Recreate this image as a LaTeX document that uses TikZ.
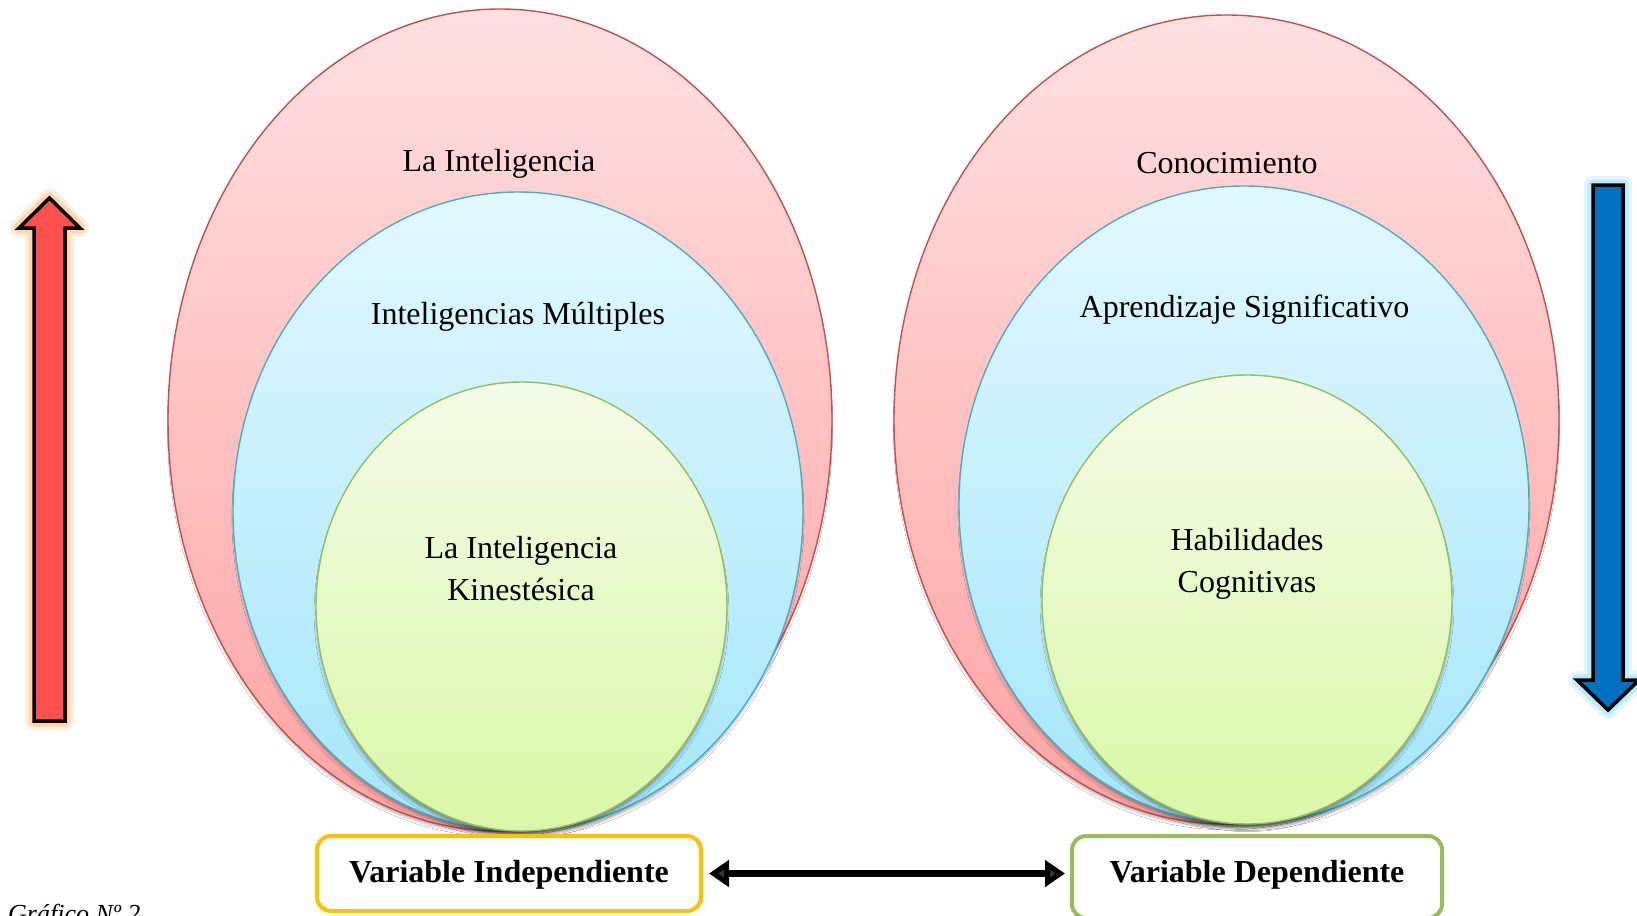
\documentclass[tikz,border=0pt]{standalone}
\usepackage{fontspec}
\setmainfont{Liberation Serif}
\usetikzlibrary{shadows.blur,arrows.meta}
\definecolor{redline}{HTML}{C0504D}
\definecolor{redtop}{HTML}{FFE0E0}
\definecolor{redbot}{HTML}{FFA3A3}
\definecolor{blueline}{HTML}{4BACC6}
\definecolor{bluetop}{HTML}{E3F8FF}
\definecolor{bluebot}{HTML}{A3E6FA}
\definecolor{greenline}{HTML}{9BBB59}
\definecolor{greentop}{HTML}{F4FBE8}
\definecolor{greenbot}{HTML}{D8F8A6}
\definecolor{boxyellow}{HTML}{FFC000}
\definecolor{arrowred}{HTML}{FF5050}
\definecolor{redglow}{HTML}{FFC68A}
\definecolor{arrowblue}{HTML}{0070C0}
\definecolor{blueglow}{HTML}{9FE3F7}
\begin{document}
\begin{tikzpicture}[x=1pt,y=-1pt,
  ell/.style={line width=1.4pt, blur shadow={shadow xshift=0pt, shadow yshift=-6pt, shadow scale=0.99, shadow blur radius=4pt, shadow opacity=45}},
  redell/.style={ell, draw=redline, top color=redtop, bottom color=redbot},
  blueell/.style={ell, draw=blueline, top color=bluetop, bottom color=bluebot},
  greenell/.style={ell, draw=greenline, top color=greentop, bottom color=greenbot},
  lbl/.style={inner sep=0pt, font=\fontsize{32}{42}\selectfont},
  varbox/.style={draw, line width=4pt, rounded corners=14pt, fill=white, inner sep=0pt, anchor=north, font=\fontsize{32}{42}\selectfont\bfseries, text height=46pt},
  bigarrow/.style={line width=3.5pt, draw=black, line join=miter},
  glow/.style={preaction={draw=#1, line width=18pt, opacity=.3, line join=round}, preaction={draw=#1, line width=11pt, opacity=.55, line join=round}},
  dblarrow/.style={line width=7pt, {Triangle[length=20pt,width=26pt]}-{Triangle[length=20pt,width=26pt]}, shorten <=6pt, shorten >=5pt}
]
\useasboundingbox (0,0) rectangle (1637,915);
\fill[white] (0,0) rectangle (1637,915);

% left ellipses
\path[redell] (500,420) ellipse [x radius=332pt, y radius=411pt];
\path[blueell] (518,511.5) ellipse [x radius=285pt, y radius=319.5pt];
\path[greenell] (521.5,606.5) ellipse [x radius=205.5pt, y radius=224.5pt];
% right ellipses
\path[redell] (1226.5,419.5) ellipse [x radius=332.5pt, y radius=404.5pt];
\path[blueell] (1244,505) ellipse [x radius=285pt, y radius=319pt];
\path[greenell] (1247,599.5) ellipse [x radius=205pt, y radius=224.5pt];

% labels
\node[lbl, anchor=base] (li) at (499,171) {La Inteligencia};
\node[lbl, anchor=base] (im) at (518,324) {Inteligencias Múltiples};
\node[lbl, align=center] (lk) at (521,568.5) {La Inteligencia\\Kinestésica};
\node[lbl, anchor=base] (co) at (1227,173) {Conocimiento};
\node[lbl, anchor=base] (as) at (1244.5,317) {Aprendizaje Significativo};
\node[lbl, align=center] (hc) at (1247,564) {Habilidades\\Cognitivas};

% big arrows
\draw[glow=redglow, bigarrow, fill=arrowred]
  (49.5,198) -- (80,228) -- (65,228) -- (65,721) -- (34,721) -- (34,228) -- (19,228) -- cycle;
\draw[glow=blueglow, bigarrow, fill=arrowblue]
  (1593,185) -- (1623,185) -- (1623,680) -- (1639,680) -- (1608,710) -- (1577,680) -- (1593,680) -- cycle;

% variable boxes
\node[varbox, draw=boxyellow, minimum width=384pt, text depth=29pt] (vi) at (509,834) {Variable Independiente};
\node[varbox, draw=greenline, minimum width=370pt, text depth=36pt] (vd) at (1257,834) {Variable Dependiente};
\draw[dblarrow] (vi.east) -- (vi.east -| vd.west);

% caption (cut off at the bottom edge, as in the reference)
\node[anchor=base west, inner sep=0pt, font=\fontsize{26}{30}\selectfont\itshape] (cap) at (8,922) {Gráfico Nº 2};
\end{tikzpicture}
\end{document}
